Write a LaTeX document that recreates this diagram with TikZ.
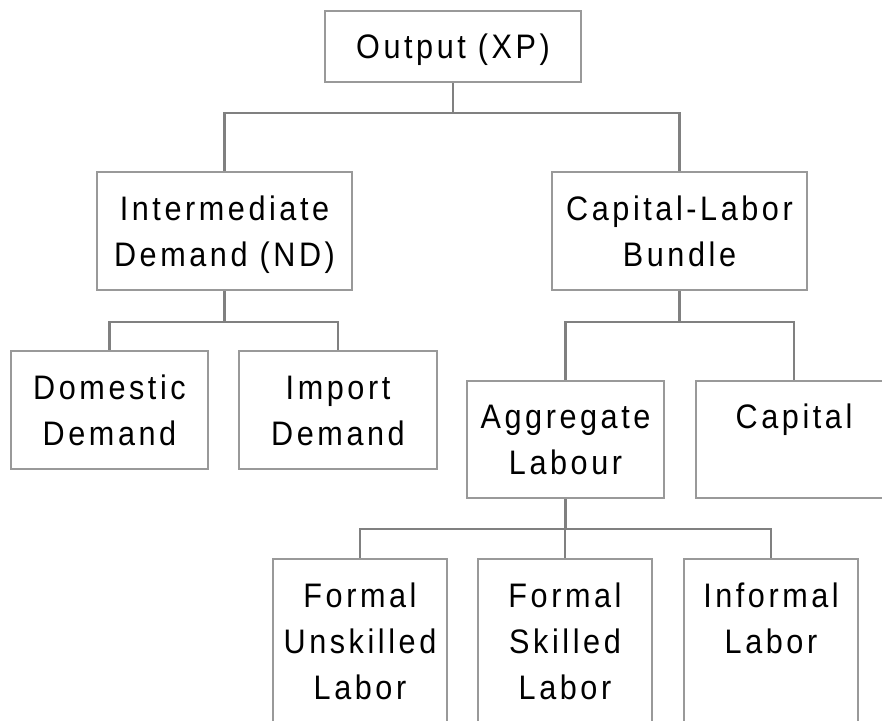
\documentclass[tikz,border=0pt]{standalone}
\usepackage{fontspec}
\setmainfont[LetterSpace=10.5,FakeStretch=0.9]{Liberation Sans}
\usepackage{tikz}
\usepackage{xcolor}
\definecolor{boxgray}{rgb}{0.6,0.6,0.6}
\definecolor{linegray}{rgb}{0.5,0.5,0.5}
\newcommand{\up}{\rule{0pt}{35pt}}
\newcommand{\dn}{\rule[-11pt]{0pt}{11pt}}
\tikzset{
  box/.style={draw=boxgray,line width=2pt,inner sep=0pt,align=center,font=\fontsize{34}{46}\selectfont},
  wire/.style={draw=linegray,line width=2.5pt}
}

\begin{document}
\begin{tikzpicture}[x=1pt,y=-1pt]
    \useasboundingbox (0,0) rectangle (882,720);
    \clip (0,0) rectangle (882,720);
    % boxes: name/x/y/width/height/text
    \foreach \n/\x/\y/\w/\h/\txt in {out/453/46.5/256/71/{Output (XP)},
        nd/224.5/231/255/118/{Intermediate\\Demand (ND)}, cl/679.5/231/255/118/{Capital-Labor\\Bundle},
        dom/109.5/410/197/118/{Domestic\\Demand}, imp/338/410/198/118/{Import\\Demand},
        agg/565.5/439.5/197/117/{Aggregate\\Labour}, cap/794/439.5/197/117/{Capital\\},
        fu/360/641/174/164/{Formal\\Unskilled\\Labor}, fs/565/641/174/164/{Formal\\Skilled\\Labor},
        inf/771/641/174/164/{Informal\\Labor\\}}{
        \node[box,minimum width=\w pt,minimum height=\h pt] (\n) at (\x,\y) {\up\txt\dn};
    }
    % elbow connectors: parent/child/drop to the bus
    \foreach \a/\b/\d in {out/nd/30, out/cl/30, nd/dom/31, nd/imp/31, cl/agg/31, cl/cap/31, agg/fu/30, agg/fs/30, agg/inf/30}{
        \draw[wire] (\a.south) -- ++(0,\d) -| (\b.north);
    }
\end{tikzpicture}
\end{document}
